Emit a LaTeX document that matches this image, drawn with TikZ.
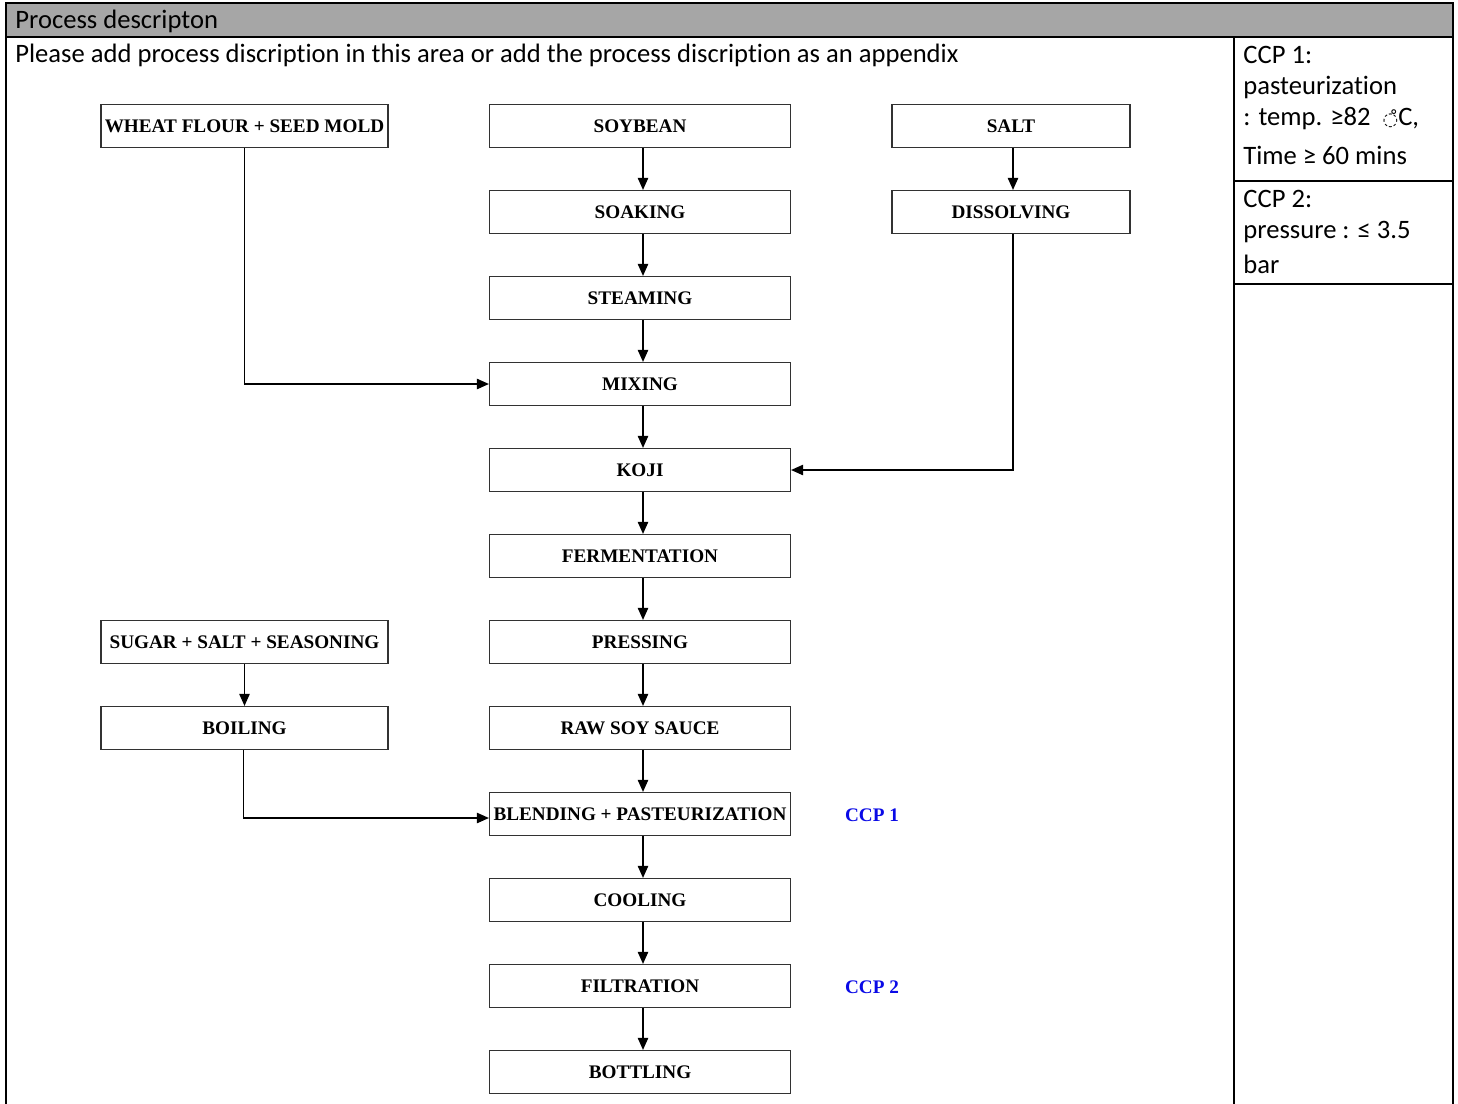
\documentclass[tikz,border=0pt]{standalone}
\usepackage{fontspec}
\setmainfont{Carlito}[Ligatures=NoCommon]
\newfontfamily\boxfont{Liberation Serif}
\newfontfamily\symfont{DejaVu Sans}
\usetikzlibrary{arrows.meta}
\definecolor{cabecera}{RGB}{166,166,166}
\definecolor{borde}{RGB}{50,50,50}
\definecolor{ccpAzul}{RGB}{10,10,230}

\begin{document}
\begin{tikzpicture}[
    x=0.5pt, y=-0.5pt,
    marco/.style={line width=1pt, black},
    paso/.style={draw=borde, line width=0.6pt, minimum width=150.5pt, minimum height=21.5pt,
        inner sep=0pt, font=\boxfont\bfseries\fontsize{9.6}{10}\selectfont},
    lado/.style={paso, minimum width=143.5pt},
    sal/.style={paso, minimum width=119pt},
    flecha/.style={line width=0.6pt, -{Triangle[length=6pt, width=5.2pt]}},
    ccp/.style={font=\boxfont\bfseries\fontsize{9.6}{10}\selectfont, text=ccpAzul},
    texto/.style={anchor=west, inner sep=0pt, font=\fontsize{13.3}{15}\selectfont}
]
    \useasboundingbox (0,0) rectangle (1458,1104);

    % --- TABLA ---
    \fill[cabecera] (6,3) rectangle (1453,37);
    \draw[marco] (6,1104) -- (6,3) -- (1453,3) -- (1453,1104);
    \draw[marco] (6,37) -- (1453,37);
    \draw[marco] (1234,37) -- (1234,1104);
    \draw[marco] (1234,181) -- (1453,181);
    \draw[marco] (1234,284) -- (1453,284);
    \node[texto] (titulo) at (15,21) {Process descripton};
    \node[texto] (nota) at (15,55) {Please add process discription in this area or add the process discription as an appendix};
    \node[texto] (c1a) at (1243,55) {CCP 1:};
    \node[texto] (c1b) at (1243,87) {pasteurization};
    \node[texto] (c1c) at (1243,119) {: temp. ≥82\ \ {\symfont\fontsize{9}{10}\selectfont ◌̊}C,};
    \node[texto] (c1d) at (1243,155) {Time ≥ 60 mins};
    \node[texto] (c2a) at (1243,199) {CCP 2:};
    \node[texto] (c2b) at (1243,232) {pressure : ≤ 3.5};
    \node[texto] (c2c) at (1243,264) {bar};

    % --- COLUMNA CENTRAL ---
    \node[paso] (soybean) at (640,126) {SOYBEAN};
    \node[paso] (soaking) at (640,212) {SOAKING};
    \node[paso] (steaming) at (640,298) {STEAMING};
    \node[paso] (mixing) at (640,384) {MIXING};
    \node[paso] (koji) at (640,470) {KOJI};
    \node[paso] (fermentation) at (640,556) {FERMENTATION};
    \node[paso] (pressing) at (640,642) {PRESSING};
    \node[paso] (raw) at (640,728) {RAW SOY SAUCE};
    \node[paso] (blending) at (640,814) {BLENDING + PASTEURIZATION};
    \node[paso] (cooling) at (640,900) {COOLING};
    \node[paso] (filtration) at (640,986) {FILTRATION};
    \node[paso] (bottling) at (640,1072) {BOTTLING};
    \foreach \a/\b in {soybean/soaking, soaking/steaming, steaming/mixing, mixing/koji,
        koji/fermentation, fermentation/pressing, pressing/raw, raw/blending,
        blending/cooling, cooling/filtration, filtration/bottling} {
        \draw[flecha] ([xshift=1.5pt]\a.south) -- ([xshift=1.5pt]\b.north);
    }

    % --- ENTRADAS ---
    \node[lado] (wheat) at (244.5,126) {WHEAT FLOUR + SEED MOLD};
    \node[sal] (salt) at (1011,126) {SALT};
    \node[sal] (dissolving) at (1011,212) {DISSOLVING};
    \node[lado] (sugar) at (244.5,642) {SUGAR + SALT + SEASONING};
    \node[lado] (boiling) at (244.5,728) {BOILING};
    \draw[flecha] ([xshift=1pt]salt.south) -- ([xshift=1pt]dissolving.north);
    \draw[flecha] (sugar) -- (boiling);
    \draw[flecha] (wheat.south) |- (mixing.west);
    \draw[flecha] ([xshift=1pt]dissolving.south) |- (koji.east);
    \draw[flecha] ([xshift=-0.5pt]boiling.south) |- ([yshift=-2pt]blending.west);

    % --- CCP ---
    \node[ccp] (ccp1) at (872,815) {CCP 1};
    \node[ccp] (ccp2) at (872,987) {CCP 2};

\end{tikzpicture}
\end{document}
